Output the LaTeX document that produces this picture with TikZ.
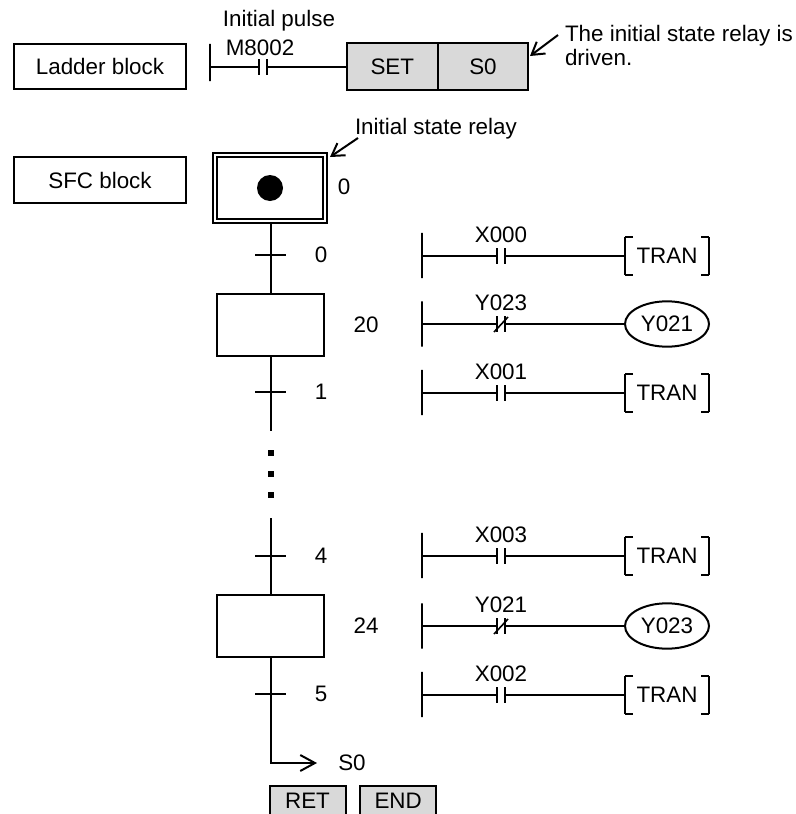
\documentclass[tikz,border=0pt]{standalone}
\usepackage{fontspec}
\setmainfont{Liberation Sans}
\usetikzlibrary{arrows.meta, positioning, shapes.geometric}

\tikzset{
    txt/.style={inner sep=0pt},
    blockbox/.style={draw, minimum width=129pt, minimum height=34pt},
    stepbox/.style={draw, minimum width=80pt, minimum height=46pt},
    instr/.style={draw, fill=black!15, minimum width=68pt, minimum height=35pt},
    endbox/.style={draw, fill=black!15, minimum width=57pt, minimum height=23pt},
    tick/.style={inner sep=0pt, minimum width=23pt, minimum height=0pt, outer sep=0pt,
        append after command={(\tikzlastnode.west) edge (\tikzlastnode.east)}},
    rail/.style={draw, inner sep=0pt, minimum width=0pt, minimum height=34pt, outer sep=0pt},
    contact/.style={inner sep=0pt, minimum width=6pt, minimum height=11.5pt, outer sep=0pt,
        append after command={(\tikzlastnode.north west) edge (\tikzlastnode.south west)
            (\tikzlastnode.north east) edge (\tikzlastnode.south east)}},
    nccontact/.style={contact,
        append after command={([shift={(-5.25pt,-6pt)}]\tikzlastnode.center) edge[line width=1.2pt] ([shift={(5.25pt,5.25pt)}]\tikzlastnode.center)}},
    tran/.style={inner sep=0pt, minimum width=63pt, minimum height=28pt, outer sep=0pt,
        append after command={
            ([xshift=6pt]\tikzlastnode.north west) edge (\tikzlastnode.north west)
            (\tikzlastnode.north west) edge (\tikzlastnode.south west)
            (\tikzlastnode.south west) edge ([xshift=6pt]\tikzlastnode.south west)
            ([xshift=-6pt]\tikzlastnode.north east) edge (\tikzlastnode.north east)
            (\tikzlastnode.north east) edge (\tikzlastnode.south east)
            (\tikzlastnode.south east) edge ([xshift=-6pt]\tikzlastnode.south east)}},
    coil/.style={draw, ellipse, inner sep=0pt, minimum width=63pt, minimum height=34pt, outer sep=0pt},
    arrowline/.style={-{Straight Barb[length=9pt, width=11pt]}}
}

\begin{document}
\begin{tikzpicture}[x=0.75pt, y=-0.75pt, line width=1.5pt,
    font=\fontsize{16.8}{18}\selectfont]
    \useasboundingbox (0,0) rectangle (796,814);

    % ladder block
    \node[blockbox] (ladder) at (100,66.5) {Ladder block};
    \node[rail, minimum height=28pt] (lrail) at (210,62.5) {};
    \node[contact] (m8002) at (262.5,67) {};
    \node[instr, anchor=west] (set) at (346,66.5) {SET};
    \node[instr, right=-1.5pt of set] (s0) {S0};
    \draw (lrail.center |- m8002) -- (m8002.west);
    \draw (m8002.east) -- (set.west |- m8002);
    \node[txt] (pulse) at (279,21) {Initial pulse};
    \node[txt] (mlabel) at (260,48) {M8002};
    \node[txt, anchor=west, align=left] (note) at (564,45) {The initial state relay is\\driven.};
    \coordinate (notetail) at (558,35);
    \coordinate (notehead) at (530,56);
    \draw[arrowline] (notetail) -- (notehead);

    % sfc block
    \node[blockbox] (sfc) at (100,180) {SFC block};
    \node[draw, double, double distance=1.5pt, line width=1.4pt, minimum width=82pt, minimum height=50pt] (init) at (270,188) {};
    \node[circle, fill=black, inner sep=0pt, minimum size=19.5pt] (idot) at (270,188) {};
    \node[txt] (n0) at (344,187) {0};
    \node[txt, anchor=west] (irelay) at (354,129) {Initial state relay};
    \coordinate (itail) at (358,138);
    \coordinate (ihead) at (330,157);
    \draw[arrowline] (itail) -- (ihead);

    \node[stepbox] (s20) at (270.5,325) {};
    \node[stepbox] (s24) at (270.5,626) {};
    \node[txt] (n20) at (366,325) {20};
    \node[txt] (n24) at (366,626) {24};

    \node[tick] (t0) at (270.5,255) {};
    \node[tick] (t1) at (270.5,392) {};
    \node[tick] (t4) at (270.5,556) {};
    \node[tick] (t5) at (270.5,694) {};
    \node[txt] (lt0) at (321,255) {0};
    \node[txt] (lt1) at (321,392) {1};
    \node[txt] (lt4) at (321,556) {4};
    \node[txt] (lt5) at (321,694) {5};

    \coordinate (gapa) at (270.5,431);
    \coordinate (gapb) at (270.5,518);
    \coordinate (back) at (270.5,763);
    \coordinate (backhead) at (317,763);
    \draw (init.south -| s20) -- (s20.north);
    \draw (s20.south) -- (gapa);
    \draw (gapb) -- (s24.north);
    \draw[-{Straight Barb[length=11pt, width=12pt]}] (s24.south) -- (back) -- (backhead);
    \node[fill=black, inner sep=0pt, minimum size=4.5pt] (da) at (270.5,453) {};
    \node[fill=black, inner sep=0pt, minimum size=4.5pt] (db) at (270.5,474) {};
    \node[fill=black, inner sep=0pt, minimum size=4.5pt] (dc) at (270.5,495) {};
    \node[txt] (ret) at (352,763) {S0};
    \node[endbox] (retb) at (307.5,801) {RET};
    \node[endbox, right=9.5pt of retb] (endb) {END};

    % ladder rows
    \node[rail] (ra) at (422,255.5) {};
    \node[contact] (ca) at (501,256) {};
    \node[tran] (oa) at (667,256) {TRAN};
    \draw (ra.center |- ca) -- (ca.west);
    \draw (ca.east) -- (oa.west);
    \node[txt, above=3.5pt of ca] (xa) {X000};

    \node[rail] (rb) at (422,324) {};
    \node[nccontact] (cb) at (501,324) {};
    \node[coil] (ob) at (667,324) {Y021};
    \draw (rb.center |- cb) -- (cb.west);
    \draw (cb.east) -- (ob.west);
    \node[txt, above=3.5pt of cb] (xb) {Y023};

    \node[rail] (rc) at (422,392.5) {};
    \node[contact] (cc) at (501,393) {};
    \node[tran] (oc) at (667,393) {TRAN};
    \draw (rc.center |- cc) -- (cc.west);
    \draw (cc.east) -- (oc.west);
    \node[txt, above=3.5pt of cc] (xc) {X001};

    \node[rail] (rd) at (422,555.5) {};
    \node[contact] (cd) at (501,556) {};
    \node[tran] (od) at (667,556) {TRAN};
    \draw (rd.center |- cd) -- (cd.west);
    \draw (cd.east) -- (od.west);
    \node[txt, above=3.5pt of cd] (xd) {X003};

    \node[rail] (re) at (422,626) {};
    \node[nccontact] (ce) at (501,626) {};
    \node[coil] (oe) at (667,626) {Y023};
    \draw (re.center |- ce) -- (ce.west);
    \draw (ce.east) -- (oe.west);
    \node[txt, above=3.5pt of ce] (xe) {Y021};

    \node[rail] (rf) at (422,694.5) {};
    \node[contact] (cf) at (501,695) {};
    \node[tran] (of) at (667,695) {TRAN};
    \draw (rf.center |- cf) -- (cf.west);
    \draw (cf.east) -- (of.west);
    \node[txt, above=3.5pt of cf] (xf) {X002};
\end{tikzpicture}
\end{document}
